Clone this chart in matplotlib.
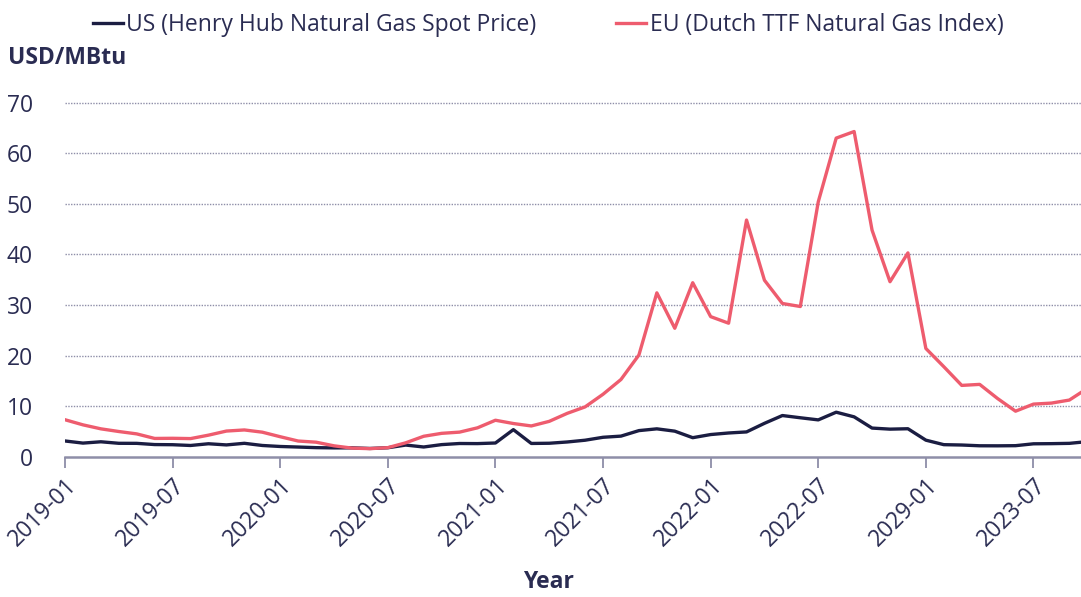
import matplotlib
matplotlib.use("Agg")
import matplotlib.pyplot as plt

# monthly prices, 2019-01 .. 2023-10 (USD/MBtu)
us_henry_hub = [3.11, 2.69, 2.95, 2.65, 2.64, 2.40, 2.37, 2.22, 2.56, 2.33, 2.65, 2.22,
                2.02, 1.91, 1.79, 1.74, 1.75, 1.63, 1.77, 2.30, 1.92, 2.39, 2.61, 2.59,
                2.71, 5.35, 2.62, 2.66, 2.91, 3.26, 3.84, 4.07, 5.16, 5.51, 5.05, 3.76,
                4.38, 4.69, 4.90, 6.60, 8.14, 7.70, 7.28, 8.80, 7.88, 5.66, 5.45, 5.53,
                3.27, 2.38, 2.31, 2.16, 2.15, 2.18, 2.55, 2.58, 2.64, 2.98]
eu_ttf = [7.31, 6.30, 5.51, 4.98, 4.51, 3.61, 3.64, 3.58, 4.26, 5.07, 5.29, 4.85,
          3.95, 3.10, 2.87, 2.15, 1.70, 1.59, 1.79, 2.75, 4.04, 4.62, 4.86, 5.71,
          7.21, 6.56, 6.08, 6.99, 8.57, 9.85, 12.35, 15.27, 20.11, 32.4, 25.4, 34.4,
          27.7, 26.4, 46.8, 34.9, 30.3, 29.7, 50.4, 63.0, 64.3, 44.8, 34.6, 40.3,
          21.4, 17.8, 14.1, 14.3, 11.5, 9.0, 10.4, 10.6, 11.2, 13.5]
tick_months = [0, 6, 12, 18, 24, 30, 36, 42, 48, 54]
tick_labels = ["2019-01", "2019-07", "2020-01", "2020-07", "2021-01",
               "2021-07", "2022-01", "2022-07", "2029-01", "2023-07"]

navy = "#1b1d42"
red = "#ee5c6e"
grey = "#8e8ea8"
text_col = "#2a2c52"
fs = 16.5

plt.rcParams["font.family"] = ["Open Sans", "DejaVu Sans"]

fig = plt.figure(figsize=(10.81, 5.97), dpi=100)
ax = fig.add_axes([65 / 1081, (597 - 456.7) / 597, 1 - 65 / 1081, (456.7 - 92.6) / 597])

x = list(range(len(us_henry_hub)))
ax.plot(x, us_henry_hub, color=navy, lw=2.4, label="US (Henry Hub Natural Gas Spot Price)",
        solid_joinstyle="round", zorder=3)
ax.plot(x, eu_ttf, color=red, lw=2.4, label="EU (Dutch TTF Natural Gas Index)",
        solid_joinstyle="round", zorder=3)

ax.set_xlim(0, 56.65)
ax.set_ylim(0, 72)
ax.set_yticks(range(0, 80, 10))
ax.set_xticks(tick_months)
ax.set_xticklabels(tick_labels, rotation=45, ha="right", rotation_mode="anchor")

for y in range(10, 80, 10):
    ax.axhline(y, color=grey, lw=1.0, ls=(0, (1, 1)), zorder=1)

for side in ["top", "right", "left"]:
    ax.spines[side].set_visible(False)
ax.spines["bottom"].set_color(grey)
ax.spines["bottom"].set_linewidth(1.8)
ax.tick_params(axis="x", length=8, width=1.3, color=grey, labelsize=fs,
               labelcolor=text_col, pad=4)
ax.tick_params(axis="y", length=0, labelsize=fs, labelcolor=text_col, pad=23)

fig.text(8 / 1081, 1 - 58 / 597, "USD/MBtu", fontsize=fs, fontweight="bold",
         color=text_col, ha="left", va="center")
fig.text(548 / 1081, 1 - 582 / 597, "Year", fontsize=fs, fontweight="bold",
         color=text_col, ha="center", va="center")

fig.legend(loc="upper center", bbox_to_anchor=(0.507, 1.012), ncol=2, frameon=False,
           fontsize=fs, handlelength=1.3, handletextpad=0.15, columnspacing=3.5,
           labelcolor=text_col)

fig.savefig("out.png", dpi=100)
